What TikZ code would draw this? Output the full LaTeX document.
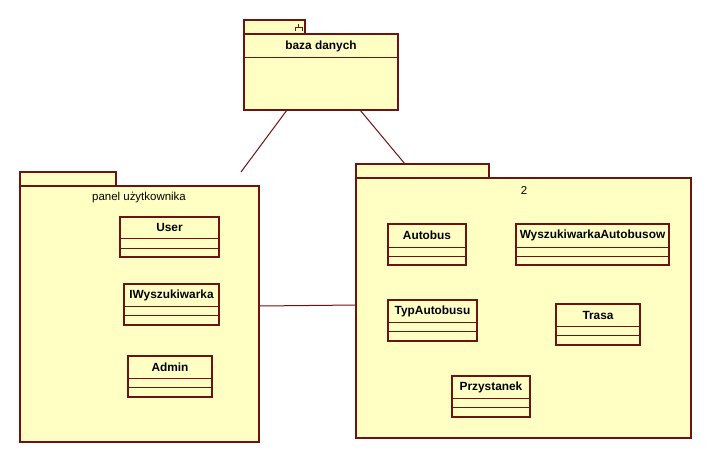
\documentclass[tikz,border=0pt]{standalone}
\usepackage{fontspec}
\setmainfont{Liberation Sans}
\definecolor{umlfill}{RGB}{255,255,196}
\definecolor{umlline}{RGB}{110,18,18}
\tikzset{
  box/.style={draw=umlline, fill=umlfill, line width=0.8pt},
  ln/.style={draw=umlline, line width=0.75pt},
  cname/.style={font=\fontsize{8.9}{10}\selectfont\bfseries, text=black, inner sep=0pt},
  pname/.style={font=\fontsize{8.6}{10}\selectfont, text=black, inner sep=0pt},
}
\newcommand\umlclass[8]{%
  \draw[box] (#2,#3) rectangle (#4,#5);
  \draw[ln] (#2,#6) -- (#4,#6);
  \draw[ln] (#2,#7) -- (#4,#7);
  \node[cname] (#1) at ({(#2+#4)/2},{(#3+#6)/2}) {#8};
}
\begin{document}
\begin{tikzpicture}[x=0.75pt,y=-0.75pt]
\useasboundingbox (0,0) rectangle (712,464);
% database package
\draw[box] (244,20) rectangle (305,34);
\draw[box] (244,34) rectangle (398,110);
\draw[ln] (244,57) -- (398,57);
\node[cname] (db) at (321,46) {baza danych};
\draw[ln] (298.5,24) -- (298.5,27.5) (295,31) -- (295,27.5) -- (302,27.5) -- (302,31);
\coordinate (dbL) at (287,110);
\coordinate (dbR) at (360,110);
% panel package
\draw[box] (20,172) rectangle (116,186);
\draw[box] (20,186) rectangle (259,442);
\node[pname] (panel) at (139,198) {panel użytkownika};
\coordinate (panelTop) at (241,172);
\coordinate (panelR) at (259,306);
% package 2
\draw[box] (356,164) rectangle (489,178);
\draw[box] (356,178) rectangle (691,438);
\node[pname] (pkg) at (524,190) {2};
\coordinate (pkgTab) at (405,164);
\coordinate (pkgL) at (356,305);
\coordinate (mid) at (308,305.5);
% classes
\umlclass{user}{120}{217}{219}{257}{238}{248}{User}
\umlclass{iwys}{124}{284}{219}{325}{306}{315}{IWyszukiwarka}
\umlclass{admin}{128}{356}{212}{397}{378}{387}{Admin}
\umlclass{autobus}{388}{224}{466}{265}{247}{256}{Autobus}
\umlclass{wysz}{516}{224}{669}{265}{247}{256}{WyszukiwarkaAutobusow}
\umlclass{typ}{388}{300}{477}{341}{322}{331}{TypAutobusu}
\umlclass{trasa}{556}{304}{640}{345}{326}{335}{Trasa}
\umlclass{przyst}{452}{376}{530}{417}{398}{407}{Przystanek}
% connectors
\draw[ln] (dbL) -- (panelTop);
\draw[ln] (dbR) -- (pkgTab);
\draw[ln] (panelR) -- (mid) -- (pkgL);
\end{tikzpicture}
\end{document}
